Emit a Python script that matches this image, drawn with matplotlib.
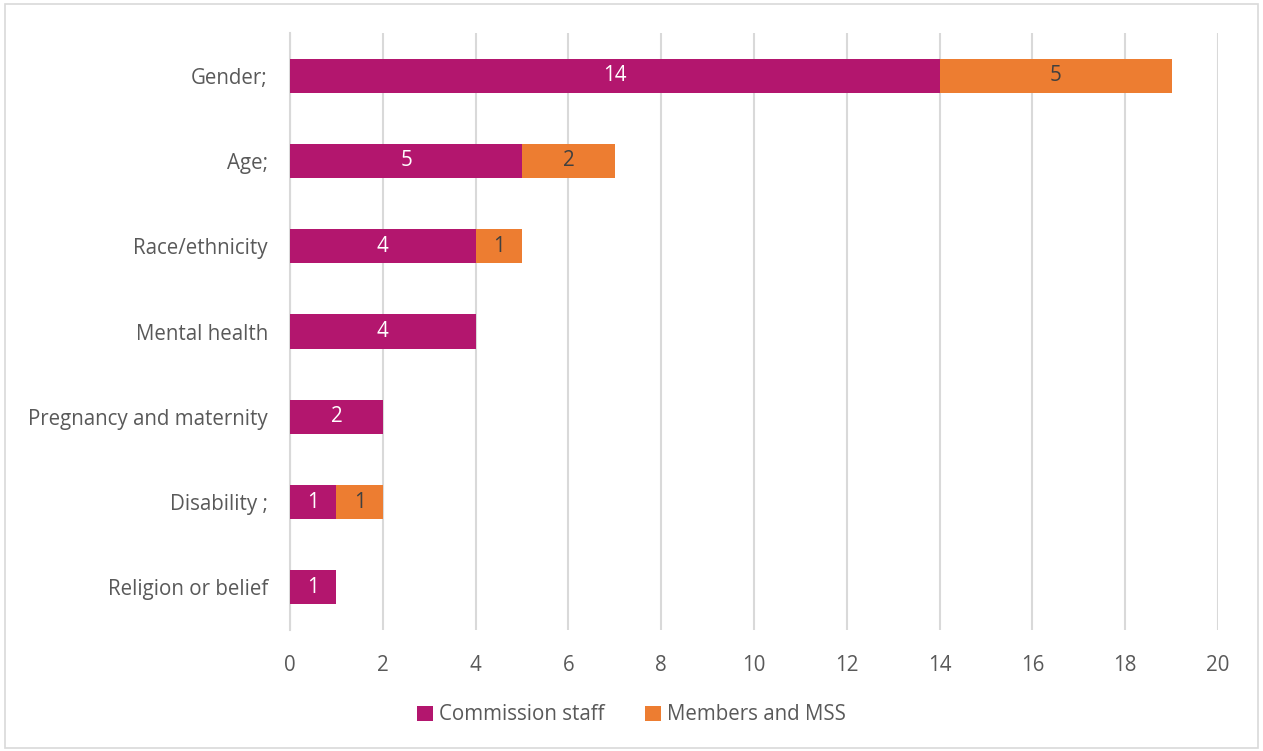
import matplotlib
matplotlib.use("Agg")
import matplotlib.pyplot as plt
from matplotlib.patches import Rectangle

categories = ["Gender;", "Age;", "Race/ethnicity", "Mental health",
              "Pregnancy and maternity", "Disability ;", "Religion or belief"]
commission_staff = [14, 5, 4, 4, 2, 1, 1]
members_mss = [5, 2, 1, 0, 0, 1, 0]
series_names = ["Commission staff", "Members and MSS"]
x_ticks = [0, 2, 4, 6, 8, 10, 12, 14, 16, 18, 20]

MAGENTA = "#B3166E"
ORANGE = "#ED7D31"
TEXT = "#595959"
GRID = "#D9D9D9"
FS = 14.8

plt.rcParams['font.family'] = ['Open Sans', 'DejaVu Sans']

W, H = 1263, 751
fig = plt.figure(figsize=(W / 100, H / 100), dpi=100)
fig.patches.append(Rectangle((5 / W, 3 / H), 1253 / W, 744 / H, transform=fig.transFigure,
                             fill=False, edgecolor=GRID, linewidth=1.2))

ax = fig.add_axes([290 / W, 1 - 630 / H, (1218 - 290) / W, (630 - 33) / H])

y = list(range(len(categories)))
h = 0.4
b1 = ax.barh(y, commission_staff, height=h, color=MAGENTA, zorder=3, label=series_names[0])
b2 = ax.barh(y, members_mss, left=commission_staff, height=h, color=ORANGE, zorder=3,
             label=series_names[1])

for i, (c, m) in enumerate(zip(commission_staff, members_mss)):
    if c:
        ax.text(c / 2, i, str(c), ha="center", va="center", color="white", fontsize=FS, zorder=4)
    if m:
        ax.text(c + m / 2, i, str(m), ha="center", va="center", color="#404040", fontsize=FS, zorder=4)

ax.set_ylim(len(categories) - 0.5, -0.5)
ax.set_xlim(0, 20)
ax.set_xticks(x_ticks)
ax.set_yticks(y)
ax.set_yticklabels(categories)
ax.tick_params(axis="both", length=0, colors=TEXT, labelsize=FS)
ax.tick_params(axis="x", pad=18)
ax.tick_params(axis="y", pad=16)
ax.xaxis.grid(True, color=GRID, linewidth=1.5, zorder=0)
for s in ["top", "right", "bottom"]:
    ax.spines[s].set_visible(False)
ax.spines["left"].set_color(GRID)
ax.spines["left"].set_linewidth(1.5)

leg = fig.legend(handles=[b1, b2], labels=series_names, loc="center",
                 bbox_to_anchor=(0.5, 1 - 715 / H), ncol=2, frameon=False,
                 fontsize=FS, handlelength=0.75, handleheight=0.75, handletextpad=0.3,
                 columnspacing=2.0, labelcolor=TEXT)

fig.savefig("out.png", dpi=100)
